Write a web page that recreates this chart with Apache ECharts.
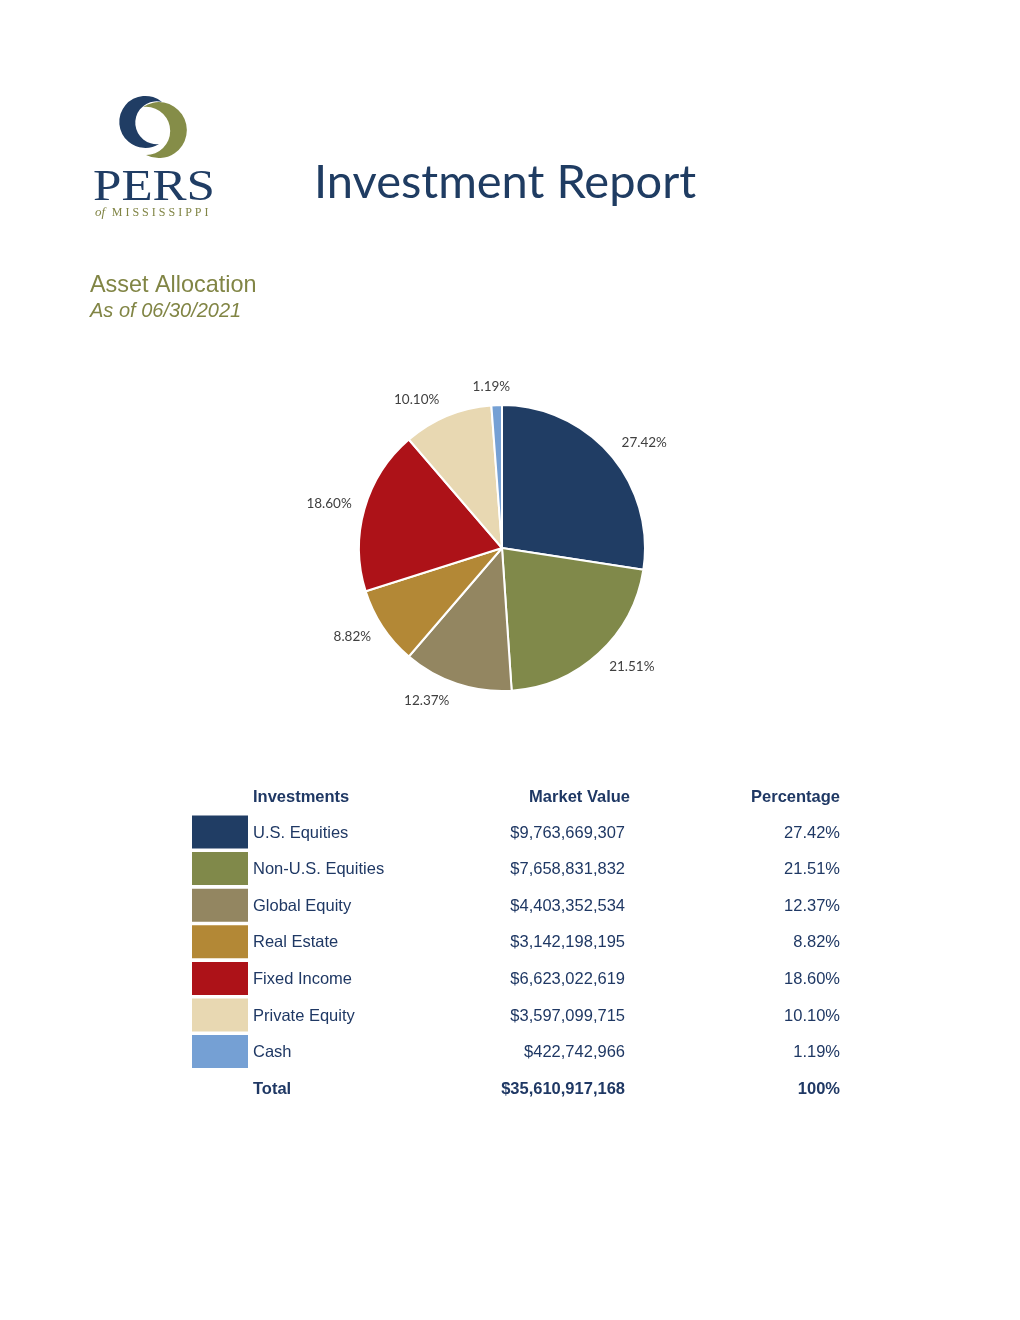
<!DOCTYPE html>
<html>
<head>
<meta charset="utf-8">
<script src="https://cdn.jsdelivr.net/npm/echarts@6/dist/echarts.min.js"></script>
<style>
  html, body { margin: 0; padding: 0; background: #fff; }
  #c_chart { width: 1020px; height: 1320px; }
</style>
</head>
<body>
<div id="c_chart"></div>
<script>
// asset allocation as of 06/30/2021
var names = ['U.S. Equities', 'Non-U.S. Equities', 'Global Equity', 'Real Estate', 'Fixed Income', 'Private Equity', 'Cash'];
var marketValues = [9763669307, 7658831832, 4403352534, 3142198195, 6623022619, 3597099715, 422742966];
var pctLabels = ['27.42%', '21.51%', '12.37%', '8.82%', '18.60%', '10.10%', '1.19%'];
var totalValue = 35610917168;
var totalPct = '100%';
var colors = ['#203d64', '#80894a', '#938661', '#b38836', '#ad1218', '#e8d8b2', '#75a0d4'];

var navy = '#1f3864';
var olive = '#818545';
var fnt = '16.5px "Liberation Sans", Arial';
var fntB = 'bold 16.5px "Liberation Sans", Arial';

// the two crescents of the logo
echarts.graphic.registerShape('logoOlive', echarts.graphic.extendPath('M143,107 A28,28 0 1 1 146,155 A24.1,24.1 0 1 0 143,107 Z'));
echarts.graphic.registerShape('logoNavy', echarts.graphic.extendPath('M162,102 A26,26 0 1 0 159,144 A21.4,21.4 0 1 1 162,102 Z'));

var dm = document.getElementById('c_chart');
var ch = echarts.init(dm, null, { renderer: 'canvas' });

function money(v) {
    return '$' + v.toLocaleString('en-US');
}

// mid angle of every slice (clockwise from 12 o'clock), used to nudge labels like excel does
var sum = marketValues.reduce(function (a, b) { return a + b; }, 0);
var midAng = [];
var acc = 0;
marketValues.forEach(function (v) {
    midAng.push((acc + v / 2) / sum * Math.PI * 2);
    acc += v;
});

// table rows built from the arrays
var tbl = [];
var rowY0 = 833, rowH = 36.6;
var colName = 253, colVal = 625, colPct = 840;
function txt(x, y, s, f, al) {
    return { type: 'text', x: x, y: y, style: { text: s, font: f, fill: navy, align: al || 'left', verticalAlign: 'middle' } };
}
tbl.push(txt(colName, 797, 'Investments', fntB));
tbl.push(txt(630, 797, 'Market Value', fntB, 'right'));
tbl.push(txt(colPct, 797, 'Percentage', fntB, 'right'));
names.forEach(function (n, i) {
    var y = rowY0 + i * rowH;
    tbl.push({ type: 'rect', shape: { x: 192, y: y - 17.5, width: 56, height: 33 }, style: { fill: colors[i] } });
    tbl.push(txt(colName, y, n, fnt));
    tbl.push(txt(colVal, y, money(marketValues[i]), fnt, 'right'));
    tbl.push(txt(colPct, y, pctLabels[i], fnt, 'right'));
});
var ty = rowY0 + names.length * rowH;
tbl.push(txt(colName, ty, 'Total', fntB));
tbl.push(txt(colVal, ty, money(totalValue), fntB, 'right'));
tbl.push(txt(colPct, ty, totalPct, fntB, 'right'));

// logo + headings
var head = [
    { type: 'logoOlive', style: { fill: '#858d48' } },
    { type: 'logoNavy', style: { fill: '#203d64' } },
    { type: 'text', x: 93, y: 210, scaleX: 1.16, style: { text: 'PERS', font: '44px "Liberation Serif", "DejaVu Serif", serif', fill: '#203d64', verticalAlign: 'bottom' } },
    { type: 'text', x: 95, y: 213, style: {
        text: '{a|of}  {b|M I S S I S S I P P I}', verticalAlign: 'middle',
        rich: {
            a: { font: 'italic 13px "Liberation Serif", serif', fill: olive },
            b: { font: '12px "Liberation Serif", serif', fill: olive }
        }
    } },
    { type: 'text', x: 314, y: 183, style: { text: 'Investment Report', font: '47px Lato, "Open Sans", sans-serif', fill: '#1f3c62', verticalAlign: 'middle' } },
    { type: 'text', x: 90, y: 286, style: { text: 'Asset Allocation', font: '23.4px "Liberation Sans", Arial', fill: olive, verticalAlign: 'middle' } },
    { type: 'text', x: 90, y: 311, style: { text: 'As of 06/30/2021', font: 'italic 20px "Liberation Sans", Arial', fill: olive, verticalAlign: 'middle' } }
];

var pieData = names.map(function (n, i) {
    return { name: n, value: marketValues[i], itemStyle: { color: colors[i] } };
});

var option = {
    animation: false,
    backgroundColor: '#fff',
    graphic: head.concat(tbl),
    series: [
        {
            type: 'pie',
            center: [502, 548],
            radius: 143,
            startAngle: 90,
            clockwise: true,
            avoidLabelOverlap: false,
            data: pieData,
            itemStyle: { borderColor: '#fff', borderWidth: 2 },
            label: {
                show: true,
                position: 'outside',
                formatter: function (p) { return pctLabels[p.dataIndex]; },
                fontFamily: 'Lato, "Open Sans", sans-serif',
                fontSize: 13.5,
                color: '#404040'
            },
            labelLine: { show: false, length: 8, length2: 0 },
            labelLayout: function (p) {
                var a = midAng[p.dataIndex];
                var out = { dy: -Math.cos(a) * 10 };
                if (Math.abs(Math.sin(a)) < 0.1) {
                    out.align = 'center';
                }
                return out;
            },
            emphasis: { disabled: true }
        }
    ]
};

ch.setOption(option);
window.onresize = function () {
    ch.resize();
};
</script>
</body>
</html>
